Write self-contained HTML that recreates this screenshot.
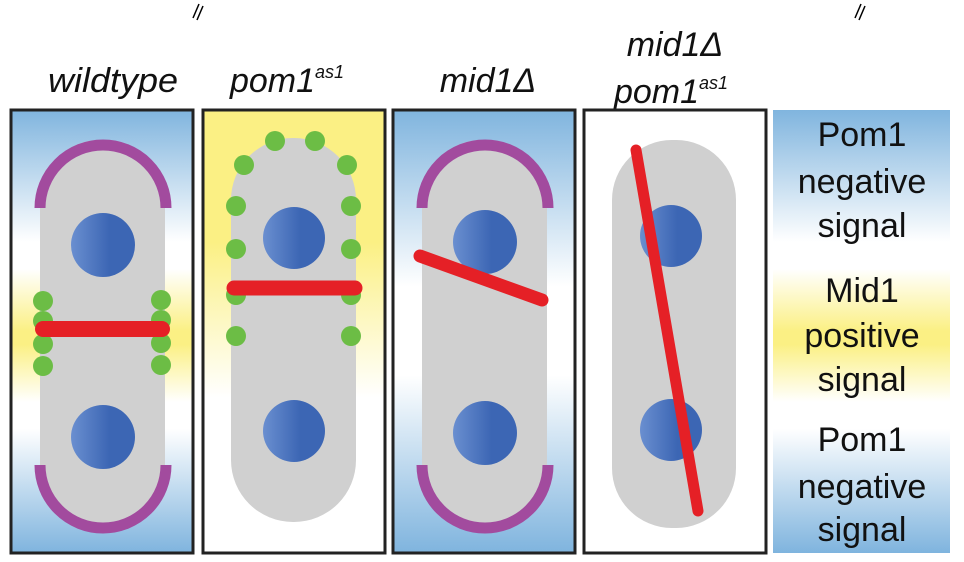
<!DOCTYPE html>
<html><head><meta charset="utf-8"><style>
html,body{margin:0;padding:0;background:#fff;width:964px;height:562px;overflow:hidden}
text{font-family:"Liberation Sans",sans-serif}
</style></head><body>
<svg width="964" height="562" viewBox="0 0 964 562">
<defs>
<linearGradient id="bw" x1="0" y1="109" x2="0" y2="553" gradientUnits="userSpaceOnUse">
<stop offset="0" stop-color="#7fb4de"/><stop offset="0.3" stop-color="#ffffff"/><stop offset="0.36" stop-color="#ffffff"/>
<stop offset="0.5" stop-color="#fbf084"/><stop offset="0.53" stop-color="#fbf084"/>
<stop offset="0.66" stop-color="#ffffff"/><stop offset="0.72" stop-color="#ffffff"/><stop offset="1" stop-color="#7fb4de"/></linearGradient>
<linearGradient id="by" x1="0" y1="109" x2="0" y2="553" gradientUnits="userSpaceOnUse">
<stop offset="0" stop-color="#fbf084"/><stop offset="0.3" stop-color="#fbf084"/><stop offset="0.65" stop-color="#ffffff"/><stop offset="1" stop-color="#ffffff"/></linearGradient>
<linearGradient id="bm" x1="0" y1="109" x2="0" y2="553" gradientUnits="userSpaceOnUse">
<stop offset="0" stop-color="#7fb4de"/><stop offset="0.4" stop-color="#ffffff"/><stop offset="0.6" stop-color="#ffffff"/><stop offset="1" stop-color="#7fb4de"/></linearGradient>
<linearGradient id="nuc" x1="0" y1="0" x2="1" y2="0">
<stop offset="0" stop-color="#6a8fd0"/><stop offset="0.6" stop-color="#3c66b4"/></linearGradient>
</defs>
<g stroke="#000" stroke-width="1.5" fill="none"><path d="M193 18 l6 -14 M197 20 l6 -14"/><path d="M855 18 l6 -14 M859 20 l6 -14"/></g>
<g font-style="italic" font-size="34" text-anchor="middle" fill="#111">
<text x="113" y="92" textLength="130" lengthAdjust="spacingAndGlyphs">wildtype</text>
<text x="287" y="92">pom1<tspan font-size="18" dy="-14">as1</tspan></text>
<text x="488" y="92">mid1Δ</text>
<text x="675" y="56">mid1Δ</text>
<text x="671" y="103">pom1<tspan font-size="18" dy="-14">as1</tspan></text>
</g>
<g>
<rect x="11" y="110" width="182" height="443" fill="url(#bw)" stroke="#222" stroke-width="3"/>
<rect x="40" y="140" width="125" height="390" rx="60" fill="#d0d0d0"/>
<path d="M40 208 A63 63 0 0 1 166 208" fill="none" stroke="#a24b9e" stroke-width="11"/>
<path d="M40 465 A63 63 0 0 0 166 465" fill="none" stroke="#a24b9e" stroke-width="11"/>
<circle cx="103" cy="245" r="32" fill="url(#nuc)"/><circle cx="103" cy="437" r="32" fill="url(#nuc)"/>
<g fill="#6cbd45"><circle cx="43" cy="301" r="10"/><circle cx="43" cy="321" r="10"/><circle cx="43" cy="344" r="10"/><circle cx="43" cy="366" r="10"/>
<circle cx="161" cy="300" r="10"/><circle cx="161" cy="320" r="10"/><circle cx="161" cy="343" r="10"/><circle cx="161" cy="365" r="10"/></g>
<line x1="43" y1="329" x2="162" y2="329" stroke="#e52026" stroke-width="16" stroke-linecap="round"/>
</g>
<g>
<rect x="203" y="110" width="182" height="443" fill="url(#by)" stroke="#222" stroke-width="3"/>
<rect x="231" y="138" width="125" height="384" rx="62" fill="#d0d0d0"/>
<g fill="#6cbd45"><circle cx="275" cy="141" r="10"/><circle cx="315" cy="141" r="10"/><circle cx="244" cy="165" r="10"/><circle cx="347" cy="165" r="10"/>
<circle cx="236" cy="206" r="10"/><circle cx="351" cy="206" r="10"/><circle cx="236" cy="249" r="10"/><circle cx="351" cy="249" r="10"/>
<circle cx="236" cy="295" r="10"/><circle cx="351" cy="295" r="10"/><circle cx="236" cy="336" r="10"/><circle cx="351" cy="336" r="10"/></g>
<circle cx="294" cy="238" r="31" fill="url(#nuc)"/><circle cx="294" cy="431" r="31" fill="url(#nuc)"/>
<line x1="234" y1="288" x2="355" y2="288" stroke="#e52026" stroke-width="15" stroke-linecap="round"/>
</g>
<g>
<rect x="393" y="110" width="182" height="443" fill="url(#bm)" stroke="#222" stroke-width="3"/>
<rect x="422" y="140" width="125" height="390" rx="60" fill="#d0d0d0"/>
<path d="M422 208 A63 63 0 0 1 548 208" fill="none" stroke="#a24b9e" stroke-width="11"/>
<path d="M422 465 A63 63 0 0 0 548 465" fill="none" stroke="#a24b9e" stroke-width="11"/>
<circle cx="485" cy="242" r="32" fill="url(#nuc)"/><circle cx="485" cy="433" r="32" fill="url(#nuc)"/>
<line x1="420" y1="256" x2="542" y2="300" stroke="#e52026" stroke-width="13" stroke-linecap="round"/>
</g>
<g>
<rect x="584" y="110" width="182" height="443" fill="#fff" stroke="#222" stroke-width="3"/>
<rect x="612" y="140" width="124" height="388" rx="60" fill="#d0d0d0"/>
<circle cx="671" cy="236" r="31" fill="url(#nuc)"/><circle cx="671" cy="430" r="31" fill="url(#nuc)"/>
<line x1="636" y1="150" x2="698" y2="511" stroke="#e52026" stroke-width="11" stroke-linecap="round"/>
</g>
<g>
<rect x="773" y="110" width="177" height="443" fill="url(#bw)"/>
<g font-size="34" text-anchor="middle" fill="#111">
<text x="862" y="146">Pom1</text><text x="862" y="193">negative</text><text x="862" y="237">signal</text>
<text x="862" y="302">Mid1</text><text x="862" y="347">positive</text><text x="862" y="391">signal</text>
<text x="862" y="451">Pom1</text><text x="862" y="498">negative</text><text x="862" y="541">signal</text>
</g></g>
</svg>
</body></html>
